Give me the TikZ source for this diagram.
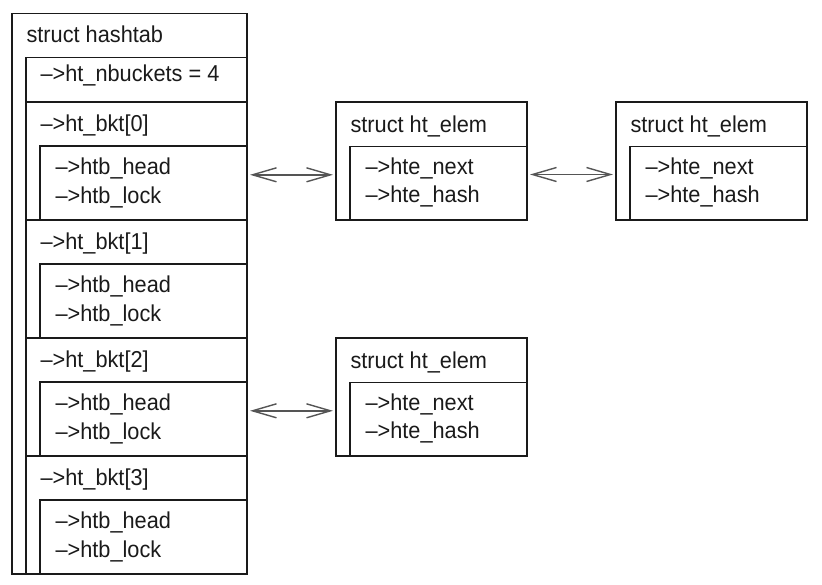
\documentclass[tikz,border=0pt]{standalone}
\usepackage{fontspec}
\setmainfont{Liberation Sans}[FakeStretch=0.945]
\usetikzlibrary{arrows.meta, positioning}
\definecolor{cline}{HTML}{1A1A1A}
\definecolor{cgrey}{HTML}{555555}
\newcommand\boxfont{\fontsize{23}{28}\selectfont}
\tikzset{
  every picture/.style={line width=1.1pt},
  frame/.style={draw=cline, inner sep=0pt, outer sep=0pt, anchor=north west},
  label/.style={anchor=base west, inner sep=0pt, font=\boxfont, text=cline},
  link/.style={{Straight Barb[length=24pt, width=14pt]}-{Straight Barb[length=24pt, width=14pt]}, draw=cgrey, line width=1.4pt, shorten <=3pt, shorten >=3pt},
}

\begin{document}
\begin{tikzpicture}[x=1pt, y=-1pt]
  \useasboundingbox (0,0) rectangle (822,584);
  % the hash table
  \node[frame, minimum width=235pt, minimum height=560.5pt] (tab) at (12,13.5) {};
  \node[label] (tabname) at (26,42.7) {struct hashtab};
  \node[frame, minimum width=221pt, minimum height=44.7pt] (nbkt) at (26,57.3) {};
  \node[label] (nbktname) at (40,81.5) {-->ht\_nbuckets = 4};
  \foreach \i [evaluate=\i as \ty using 102+118*\i] in {0,...,3} {
    \node[frame, minimum width=221pt, minimum height=118pt] (row\i) at (26,\ty) {};
    \node[label] (bktname\i) at (40,\ty+29.5) {-->ht\_bkt[\i]};
    \node[frame, minimum width=207pt, minimum height=74pt] (bkt\i) at (40,\ty+44) {};
    \node[label] (head\i) at (55,\ty+72.8) {-->htb\_head};
    \node[label] (lock\i) at (55,\ty+101) {-->htb\_lock};
  }
  % the elements
  \foreach \n/\ex/\ey in {A/336/102, B/616/102, C/336/338} {
    \node[frame, minimum width=191pt, minimum height=118pt] (elem\n) at (\ex,\ey) {};
    \node[label] (etitle\n) at (\ex+14,\ey+30) {struct ht\_elem};
    \node[frame, minimum width=177pt, minimum height=73.5pt] (einner\n) at (\ex+14,\ey+44.5) {};
    \node[label] (next\n) at (\ex+29,\ey+72.5) {-->hte\_next};
    \node[label] (hash\n) at (\ex+29,\ey+100.5) {-->hte\_hash};
  }
  \draw[link] (bkt0.east |- head0.base) -- (elemA.west |- head0.base);
  \draw[link] (elemA.east |- nextA.base) -- (elemB.west |- nextA.base);
  \draw[link] (bkt2.east |- head2.base) -- (elemC.west |- head2.base);
\end{tikzpicture}
\end{document}
